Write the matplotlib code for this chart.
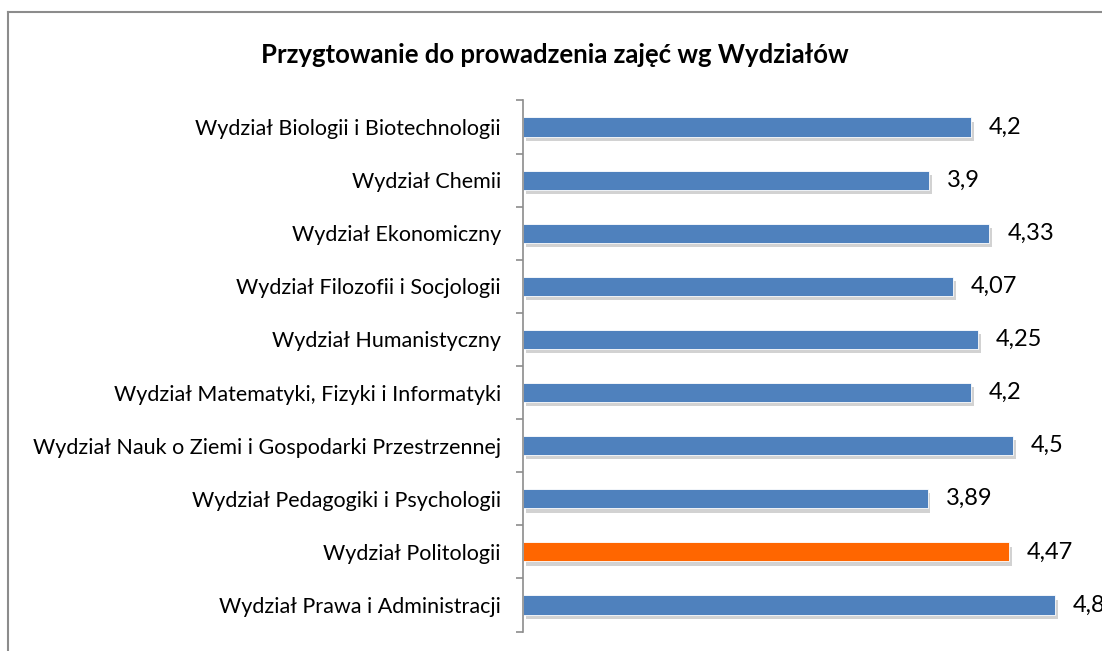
import matplotlib.pyplot as plt
import matplotlib.patheffects as pe
from matplotlib.lines import Line2D

# ---------------------------------------Dane---------------------------------------
wydzialy = [
    "Wydział Biologii i Biotechnologii",
    "Wydział Chemii",
    "Wydział Ekonomiczny",
    "Wydział Filozofii i Socjologii",
    "Wydział Humanistyczny",
    "Wydział Matematyki, Fizyki i Informatyki",
    "Wydział Nauk o Ziemi i Gospodarki Przestrzennej",
    "Wydział Pedagogiki i Psychologii",
    "Wydział Politologii",
    "Wydział Prawa i Administracji",
]
oceny = [4.2, 3.9, 4.33, 4.07, 4.25, 4.2, 4.5, 3.89, 4.47, 4.8]
etykiety = ["4,2", "3,9", "4,33", "4,07", "4,25", "4,2", "4,5", "3,89", "4,47", "4,8"]
wyrozniony = "Wydział Politologii"

plt.rcParams['font.family'] = ['Lato', 'DejaVu Sans']

W, H = 1102, 651
fig = plt.figure(figsize=(W / 100, H / 100), dpi=100)

# ramka wykresu (wychodzi poza obraz z prawej i z dołu)
fig.add_artist(Line2D([8 / W, 8 / W], [0, 1 - 12 / H], transform=fig.transFigure,
                      color='#8c8c8c', lw=1.5))
fig.add_artist(Line2D([8 / W, 1], [1 - 12 / H, 1 - 12 / H], transform=fig.transFigure,
                      color='#8c8c8c', lw=1.5))

fig.text(555 / W, 1 - 55 / H, "Przygtowanie do prowadzenia zajęć wg Wydziałów",
         ha='center', va='center', fontsize=18.5, fontweight='bold')

# osie: x od 1, 140 px na jednostkę
x0_px, top_px, bot_px = 523, 100.4, 631.6
xmin, xmax = 1.0, 5.5
ax = fig.add_axes([x0_px / W, 1 - bot_px / H, (xmax - xmin) * 140 / W, (bot_px - top_px) / H])
ax.set_xlim(xmin, xmax)
ax.set_ylim(len(wydzialy) - 0.5, -0.5)

kolory = ['#ff6600' if w == wyrozniony else '#4f81bd' for w in wydzialy]
pos = range(len(wydzialy))
bars = ax.barh(pos, [v - xmin for v in oceny], left=xmin, height=0.36, color=kolory,
               edgecolor='white', linewidth=0.6)
for b in bars:
    b.set_path_effects([pe.SimplePatchShadow(offset=(2, -3), shadow_rgbFace='#8f8f8f', alpha=0.4),
                        pe.Normal()])

for i, (v, t) in enumerate(zip(oceny, etykiety)):
    ax.text(v + 0.13, i, t, va='center', ha='left', fontsize=17, clip_on=False)

ax.set_yticks(list(pos))
ax.set_yticklabels(wydzialy, fontsize=15.5)
ax.tick_params(axis='y', which='major', length=0, pad=16)
ax.set_yticks([i - 0.5 for i in range(len(wydzialy) + 1)], minor=True)
ax.tick_params(axis='y', which='minor', length=5, width=1.2, color='#8c8c8c')

ax.set_xticks([])
for s in ['top', 'right', 'bottom']:
    ax.spines[s].set_visible(False)
ax.spines['left'].set_color('#8c8c8c')
ax.spines['left'].set_linewidth(1.2)

fig.savefig("out.png", dpi=100)
